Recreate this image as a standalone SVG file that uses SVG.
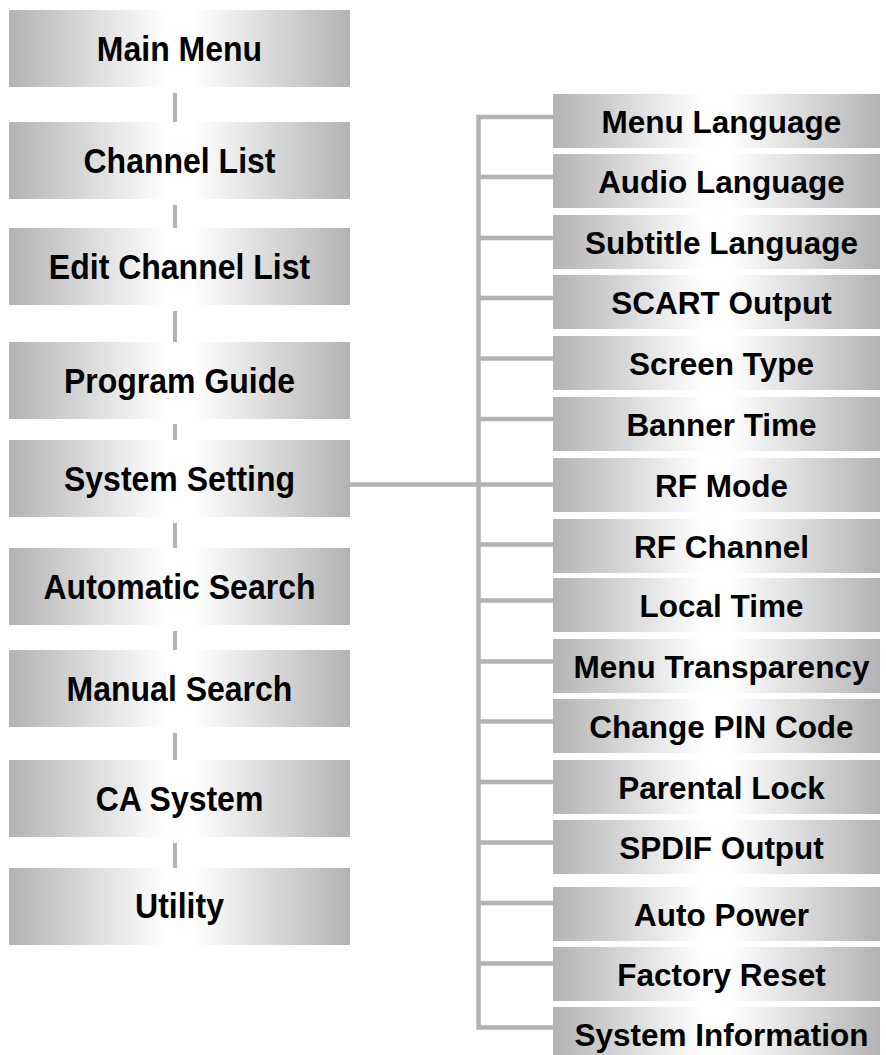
<svg xmlns="http://www.w3.org/2000/svg" width="886" height="1055" viewBox="0 0 886 1055">
<defs>
<linearGradient id="g" x1="0" y1="0" x2="1" y2="0">
<stop offset="0" stop-color="#b3b3b3"/>
<stop offset="0.46" stop-color="#ffffff"/>
<stop offset="0.54" stop-color="#ffffff"/>
<stop offset="1" stop-color="#b3b3b3"/>
</linearGradient>
<style>
.box{fill:url(#g);}
.lt{font-family:"Liberation Sans",Arial,sans-serif;font-weight:bold;font-size:32px;fill:#000;text-anchor:middle;}
.rt{font-family:"Liberation Sans",Arial,sans-serif;font-weight:bold;font-size:31.5px;fill:#000;text-anchor:middle;}
.c{stroke:#b3b3b3;stroke-width:4.5;fill:none;}
.cl{stroke:#b3b3b3;stroke-width:4;fill:none;}
</style>
</defs>
<g id="connectors">
<line class="cl" x1="175" y1="93" x2="175" y2="122"/>
<line class="cl" x1="175" y1="205" x2="175" y2="228"/>
<line class="cl" x1="175" y1="311" x2="175" y2="342"/>
<line class="cl" x1="175" y1="424" x2="175" y2="440"/>
<line class="cl" x1="175" y1="523" x2="175" y2="548"/>
<line class="cl" x1="175" y1="631" x2="175" y2="650"/>
<line class="cl" x1="175" y1="733" x2="175" y2="760"/>
<line class="cl" x1="175" y1="843" x2="175" y2="868"/>
<path class="c" d="M555 117 H478.5 V1027.5 H555"/>
<line class="c" x1="350" y1="484.5" x2="555" y2="484.5"/>
<line class="c" x1="478.5" y1="177" x2="555" y2="177"/>
<line class="c" x1="478.5" y1="238" x2="555" y2="238"/>
<line class="c" x1="478.5" y1="298" x2="555" y2="298"/>
<line class="c" x1="478.5" y1="358.5" x2="555" y2="358.5"/>
<line class="c" x1="478.5" y1="419" x2="555" y2="419"/>
<line class="c" x1="478.5" y1="544.5" x2="555" y2="544.5"/>
<line class="c" x1="478.5" y1="600.5" x2="555" y2="600.5"/>
<line class="c" x1="478.5" y1="661.5" x2="555" y2="661.5"/>
<line class="c" x1="478.5" y1="721.5" x2="555" y2="721.5"/>
<line class="c" x1="478.5" y1="782" x2="555" y2="782"/>
<line class="c" x1="478.5" y1="842.5" x2="555" y2="842.5"/>
<line class="c" x1="478.5" y1="903" x2="555" y2="903"/>
<line class="c" x1="478.5" y1="963.5" x2="555" y2="963.5"/>
</g>
<g id="main-menu"><rect class="box" x="9" y="10" width="341" height="77"/><text class="lt" transform="translate(179.5,61) scale(1,1.1)">Main Menu</text></g>
<g id="channel-list"><rect class="box" x="9" y="122" width="341" height="77"/><text class="lt" transform="translate(179.5,173) scale(1,1.1)">Channel List</text></g>
<g id="edit-channel-list"><rect class="box" x="9" y="228" width="341" height="77"/><text class="lt" transform="translate(179.5,279) scale(1,1.1)">Edit Channel List</text></g>
<g id="program-guide"><rect class="box" x="9" y="342" width="341" height="77"/><text class="lt" transform="translate(179.5,393) scale(1,1.1)">Program Guide</text></g>
<g id="system-setting"><rect class="box" x="9" y="440" width="341" height="77"/><text class="lt" transform="translate(179.5,491) scale(1,1.1)">System Setting</text></g>
<g id="automatic-search"><rect class="box" x="9" y="548" width="341" height="77"/><text class="lt" transform="translate(179.5,599) scale(1,1.1)">Automatic Search</text></g>
<g id="manual-search"><rect class="box" x="9" y="650" width="341" height="77"/><text class="lt" transform="translate(179.5,701) scale(1,1.1)">Manual Search</text></g>
<g id="ca-system"><rect class="box" x="9" y="760" width="341" height="77"/><text class="lt" transform="translate(179.5,811) scale(1,1.1)">CA System</text></g>
<g id="utility"><rect class="box" x="9" y="868" width="341" height="77"/><text class="lt" transform="translate(179.5,918) scale(1,1.1)">Utility</text></g>
<g id="menu-language"><rect class="box" x="553" y="94" width="327" height="54"/><text class="rt" x="721.5" y="132.5">Menu Language</text></g>
<g id="audio-language"><rect class="box" x="553" y="154" width="327" height="54"/><text class="rt" x="721.5" y="192.5">Audio Language</text></g>
<g id="subtitle-language"><rect class="box" x="553" y="215" width="327" height="54"/><text class="rt" x="721.5" y="253.5">Subtitle Language</text></g>
<g id="scart-output"><rect class="box" x="553" y="275" width="327" height="54"/><text class="rt" x="721.5" y="313.5">SCART Output</text></g>
<g id="screen-type"><rect class="box" x="553" y="336" width="327" height="54"/><text class="rt" x="721.5" y="374.5">Screen Type</text></g>
<g id="banner-time"><rect class="box" x="553" y="397" width="327" height="54"/><text class="rt" x="721.5" y="435.5">Banner Time</text></g>
<g id="rf-mode"><rect class="box" x="553" y="458" width="327" height="54"/><text class="rt" x="721.5" y="496.5">RF Mode</text></g>
<g id="rf-channel"><rect class="box" x="553" y="519" width="327" height="54"/><text class="rt" x="721.5" y="557.5">RF Channel</text></g>
<g id="local-time"><rect class="box" x="553" y="578" width="327" height="54"/><text class="rt" x="721.5" y="616.5">Local Time</text></g>
<g id="menu-transparency"><rect class="box" x="553" y="639" width="327" height="54"/><text class="rt" x="721.5" y="677.5">Menu Transparency</text></g>
<g id="change-pin-code"><rect class="box" x="553" y="699" width="327" height="54"/><text class="rt" x="721.5" y="737.5">Change PIN Code</text></g>
<g id="parental-lock"><rect class="box" x="553" y="760" width="327" height="54"/><text class="rt" x="721.5" y="798.5">Parental Lock</text></g>
<g id="spdif-output"><rect class="box" x="553" y="820" width="327" height="54"/><text class="rt" x="721.5" y="858.5">SPDIF Output</text></g>
<g id="auto-power"><rect class="box" x="553" y="887" width="327" height="54"/><text class="rt" x="721.5" y="925.5">Auto Power</text></g>
<g id="factory-reset"><rect class="box" x="553" y="947" width="327" height="54"/><text class="rt" x="721.5" y="985.5">Factory Reset</text></g>
<g id="system-information"><rect class="box" x="553" y="1007" width="327" height="54"/><text class="rt" x="721.5" y="1045.5">System Information</text></g>
</svg>
